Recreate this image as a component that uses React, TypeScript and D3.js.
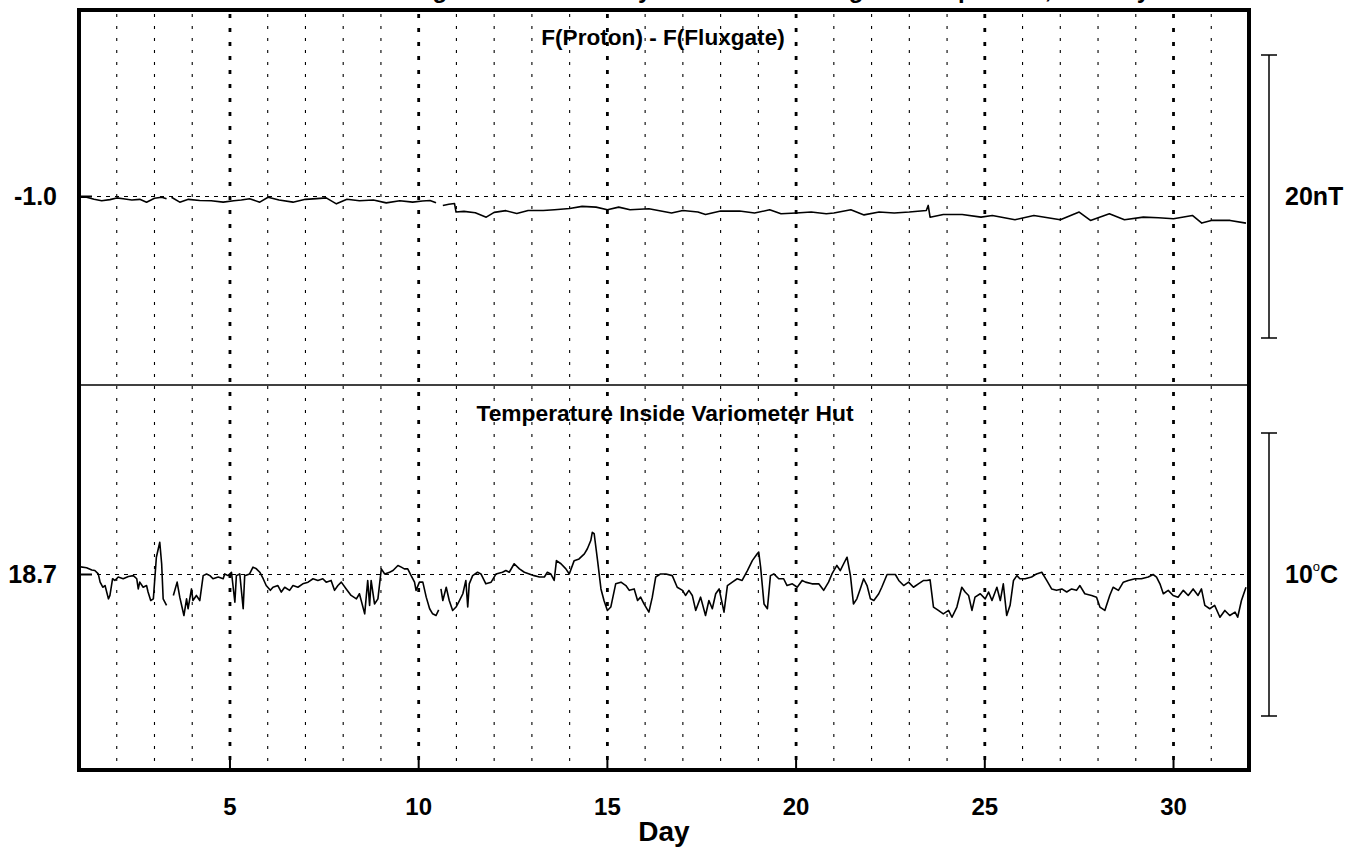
import React from 'react';
import * as d3 from 'd3';

// ---------- data ----------
const dayDomain = [1, 32];
const majorDays = [5, 10, 15, 20, 25, 30];
const minorDays = [2, 3, 4, 6, 7, 8, 9, 11, 12, 13, 14, 16, 17, 18, 19, 21, 22, 23, 24, 26, 27, 28, 29, 31];

const fluxRef = -1.0;
const fluxSpan = 20; // nT scale bar
const tempRef = 18.7;
const tempSpan = 10; // degC scale bar

const titleText = 'Eskdalemuir Magnetic Observatory: Proton and Fluxgate Comparison, January';
const panel1Title = 'F(Proton) - F(Fluxgate)';
const panel2Title = 'Temperature Inside Variometer Hut';

// F(Proton) - F(Fluxgate), nT (null = gap)
const fluxDays = [
  1.0, 1.2, 1.4, 1.6, 1.82, 2.0, 2.17, 2.4, 2.61, 2.79, 3.0, 3.19, 3.32, 3.38,
  3.45, 3.67, 3.9, 4.2, 4.5, 4.82, 5.1, 5.3, 5.52, 5.79, 6.01, 6.3, 6.67, 7.0, 7.3, 7.55, 7.82, 8.1, 8.43, 8.8, 9.14, 9.5, 9.84, 10.1, 10.3, 10.46, 10.55,
  10.64, 10.8, 10.95, 10.99, 11.2, 11.5, 11.79, 12.0, 12.31, 12.6, 12.9, 13.3, 13.6, 14.0, 14.33, 14.7, 15.0, 15.3, 15.6, 16.1, 16.7, 17.0, 17.4, 17.6, 18.0, 18.5, 18.9, 19.3, 19.6, 20.0, 20.4, 20.8, 21.0, 21.45, 21.8, 22.2, 22.6, 23.0, 23.45, 23.5, 23.55, 23.9, 24.4, 24.9, 25.2, 25.8, 26.3, 27.0, 27.5, 27.8, 28.3, 28.7, 29.2, 29.6, 30.0, 30.5, 30.75, 31.0, 31.5, 31.92,
];
const fluxValues = [
  -1.05, -1.05, -1.2, -1.3, -1.22, -1.1, -1.16, -1.25, -1.2, -1.4, -1.12, -1.05, -1.16, null,
  -1.05, -1.4, -1.2, -1.28, -1.3, -1.4, -1.3, -1.25, -1.16, -1.4, -1.05, -1.25, -1.4, -1.2, -1.15, -1.1, -1.52, -1.2, -1.3, -1.25, -1.45, -1.3, -1.4, -1.32, -1.28, -1.45, null,
  -1.63, -1.55, -1.5, -2.1, -2.05, -2.15, -2.46, -2.12, -2.0, -2.2, -1.99, -1.99, -1.94, -1.85, -1.7, -1.75, -1.94, -1.75, -1.94, -1.87, -2.17, -1.99, -2.1, -2.27, -2.03, -2.03, -2.17, -1.94, -2.22, -2.17, -2.1, -2.22, -2.17, -1.94, -2.3, -2.1, -2.17, -2.1, -1.99, -1.63, -2.46, -2.27, -2.27, -2.46, -2.34, -2.64, -2.34, -2.64, -2.1, -2.69, -2.22, -2.64, -2.46, -2.5, -2.57, -2.34, -2.88, -2.69, -2.69, -2.88,
];

// Temperature inside variometer hut, degC (null = gap)
const tempDays = [
  1.0, 1.2, 1.34, 1.42, 1.51, 1.56, 1.63, 1.69, 1.78, 1.82, 1.89, 1.95, 2.04, 2.17, 2.31, 2.44, 2.53, 2.57, 2.61, 2.7, 2.79, 2.83, 2.9, 2.97, 3.05, 3.14, 3.19, 3.23, 3.32, 3.4,
  3.5, 3.6, 3.67, 3.78, 3.85, 3.89, 3.98, 4.02, 4.11, 4.2, 4.29, 4.38, 4.47, 4.55, 4.69, 4.82, 4.86, 4.95, 5.04, 5.13, 5.17, 5.26, 5.35, 5.39, 5.52, 5.61, 5.7, 5.79, 5.88, 5.96,
  6.07, 6.14, 6.27, 6.36, 6.45, 6.58, 6.67, 6.8, 6.93, 7.07, 7.2, 7.33, 7.46, 7.55, 7.68, 7.77, 7.86, 7.95, 8.08, 8.21, 8.35, 8.43, 8.57, 8.65, 8.7, 8.74, 8.83, 8.92,
  9.01, 9.1, 9.23, 9.32, 9.45, 9.54, 9.62, 9.71, 9.8, 9.89, 9.93, 10.02, 10.11, 10.2, 10.29, 10.37, 10.46, 10.53, 10.56,
  10.59, 10.64, 10.73, 10.81, 10.9, 10.99, 11.08, 11.17, 11.25, 11.3, 11.34, 11.43, 11.56, 11.65, 11.78, 11.92, 12.05, 12.22, 12.31, 12.4, 12.53, 12.67, 12.8, 12.93,
  13.06, 13.2, 13.33, 13.41, 13.5, 13.59, 13.65, 13.77, 13.9, 13.99, 14.12, 14.25, 14.39, 14.47, 14.56, 14.6, 14.65, 14.74, 14.83, 14.91, 15.0, 15.09, 15.22, 15.36,
  15.49, 15.58, 15.71, 15.8, 15.88, 15.97, 16.1, 16.19, 16.28, 16.41, 16.55, 16.72, 16.85, 16.99, 17.07, 17.16, 17.25, 17.34, 17.47, 17.6, 17.69, 17.78, 17.87, 17.96,
  18.09, 18.18, 18.31, 18.44, 18.57, 18.71, 18.84, 18.97, 19.01, 19.06, 19.15, 19.24, 19.32, 19.41, 19.54, 19.67, 19.76, 19.9, 20.03, 20.16, 20.25, 20.42, 20.6, 20.73,
  20.86, 20.95, 21.08, 21.17, 21.26, 21.35, 21.44, 21.52, 21.61, 21.7, 21.79, 21.88, 21.97, 22.06, 22.19, 22.27, 22.41, 22.63, 22.72, 22.85, 22.98, 23.11, 23.24, 23.38,
  23.46, 23.55, 23.64, 23.77, 23.9, 24.04, 24.13, 24.26, 24.39, 24.48, 24.57, 24.66, 24.74, 24.88, 25.01, 25.1, 25.19, 25.32, 25.41, 25.49, 25.58, 25.67, 25.76, 25.85,
  25.93, 26.07, 26.24, 26.37, 26.51, 26.64, 26.77, 26.9, 27.04, 27.17, 27.3, 27.43, 27.52, 27.65, 27.83, 27.96, 28.05, 28.18, 28.31, 28.4, 28.54, 28.67, 28.8, 28.98,
  29.15, 29.33, 29.46, 29.55, 29.64, 29.73, 29.86, 29.99, 30.12, 30.26, 30.39, 30.52, 30.65, 30.74, 30.83, 30.96, 31.09, 31.23, 31.36, 31.49, 31.63, 31.7, 31.8, 31.92,
];
const tempValues = [
  18.98, 18.94, 18.86, 18.84, 18.72, 18.43, 18.25, 18.31, 17.84, 17.96, 18.55, 18.49, 18.61, 18.55, 18.63, 18.66, 18.55, 18.19, 18.43, 18.25, 18.31, 18.08, 17.78, 17.84, 19.31, 19.84, 19.08, 17.84, 17.61, null,
  17.96, 18.43, 17.9, 17.25, 17.84, 17.49, 18.19, 17.78, 17.96, 17.78, 18.66, 18.72, 18.66, 18.55, 18.61, 18.55, 18.72, 18.66, 18.78, 17.72, 18.66, 18.72, 17.49, 18.66, 18.72, 18.96, 18.9, 18.78, 18.55, 18.31,
  18.14, 18.25, 18.31, 18.08, 18.25, 18.14, 18.31, 18.25, 18.37, 18.43, 18.55, 18.49, 18.55, 18.43, 18.49, 18.14, 18.31, 18.43, 18.19, 17.96, 17.84, 18.02, 17.31, 18.49, 17.61, 18.49, 17.66, 17.84,
  18.9, 18.72, 18.78, 18.84, 19.02, 18.96, 18.9, 18.9, 18.66, 18.43, 18.14, 18.43, 18.43, 17.9, 17.49, 17.31, 17.25, 17.45, null,
  18.19, 17.78, 18.25, 17.78, 17.43, 17.55, 17.78, 18.02, 18.49, 17.55, 18.37, 18.66, 18.78, 18.72, 18.37, 18.43, 18.72, 18.78, 18.84, 18.78, 19.08, 18.9, 18.78, 18.72,
  18.66, 18.61, 18.61, 18.78, 18.72, 18.49, 19.19, 19.08, 18.9, 18.72, 19.19, 19.25, 19.43, 19.61, 19.9, 20.19, 20.14, 19.19, 18.19, 17.78, 17.43, 17.55, 18.37, 18.43,
  18.31, 18.14, 18.19, 17.78, 17.9, 17.66, 17.37, 17.9, 18.61, 18.72, 18.72, 18.66, 18.25, 18.14, 17.96, 18.14, 17.96, 17.43, 17.9, 17.25, 17.78, 17.49, 18.02, 18.19,
  17.37, 18.31, 18.43, 18.55, 18.49, 18.84, 19.19, 19.43, 19.49, 18.96, 17.66, 17.49, 18.66, 18.72, 18.55, 18.55, 18.31, 18.37, 18.25, 18.49, 18.43, 18.37, 18.37, 18.14,
  18.43, 18.72, 19.02, 18.84, 19.08, 19.31, 18.66, 17.66, 17.84, 18.19, 18.55, 18.31, 17.84, 17.78, 18.02, 18.25, 18.7, 18.7, 18.49, 18.31, 18.43, 18.25, 18.37, 18.49,
  18.49, 18.51, 17.55, 17.43, 17.31, 17.43, 17.19, 17.55, 18.25, 18.08, 17.96, 17.43, 17.9, 18.02, 17.84, 18.08, 17.78, 18.25, 17.78, 18.37, 17.25, 17.61, 18.49, 18.66,
  18.55, 18.55, 18.61, 18.72, 18.78, 18.49, 18.19, 18.14, 18.19, 18.08, 18.19, 18.14, 18.31, 18.02, 17.96, 17.9, 17.55, 17.43, 17.96, 18.25, 18.14, 18.43, 18.49, 18.55,
  18.55, 18.61, 18.7, 18.61, 18.37, 18.02, 18.14, 17.96, 17.9, 18.14, 17.96, 18.19, 17.96, 18.19, 17.61, 17.49, 17.61, 17.19, 17.43, 17.25, 17.37, 17.19, 17.78, 18.25,
];

// ---------- layout ----------
const W = 1356;
const H = 850;
const left = 79;
const right = 1249;
const top = 10;
const bottom = 770;
const mid = 385;

const font = '"Liberation Sans", Arial, Helvetica, sans-serif';

export default function App() {
  const x = d3.scaleLinear().domain(dayDomain).range([left, right]);
  const yFlux = d3
    .scaleLinear()
    .domain([fluxRef - fluxSpan / 2, fluxRef + fluxSpan / 2])
    .range([338, 55]);
  const yTemp = d3
    .scaleLinear()
    .domain([tempRef - tempSpan / 2, tempRef + tempSpan / 2])
    .range([716, 433]);

  const fluxPts = fluxDays.map((d, i) => [d, fluxValues[i]] as [number, number | null]);
  const tempPts = tempDays.map((d, i) => [d, tempValues[i]] as [number, number | null]);

  const fluxLine = d3
    .line<[number, number | null]>()
    .defined((p) => p[1] !== null)
    .x((p) => x(p[0]))
    .y((p) => yFlux(p[1] as number));
  const tempLine = d3
    .line<[number, number | null]>()
    .defined((p) => p[1] !== null)
    .x((p) => x(p[0]))
    .y((p) => yTemp(p[1] as number));

  const barX = 1269;
  const capHalf = 8;

  return (
    <svg
      width={W}
      height={H}
      style={{ position: 'absolute', left: 0, top: 0, background: '#fff' }}
      fontFamily={font}
    >
      <defs>
        <clipPath id="plotClip">
          <rect x={left} y={top} width={right - left} height={bottom - top} />
        </clipPath>
      </defs>
      <rect x={0} y={0} width={W} height={H} fill="#fff" />

      {/* main title (cut off at the top edge, as in the source image) */}
      <text x={700} y={-2} textAnchor="middle" fontSize={24} fontWeight="bold">
        {titleText}
      </text>

      {/* grid */}
      {minorDays.map((d) => (
        <line
          key={'mn' + d}
          x1={x(d)}
          x2={x(d)}
          y1={top + 4}
          y2={bottom - 2}
          stroke="#000"
          strokeWidth={1.1}
          strokeDasharray="3,9"
        />
      ))}
      {majorDays.map((d) => (
        <line
          key={'mj' + d}
          x1={x(d)}
          x2={x(d)}
          y1={top + 4}
          y2={bottom - 2}
          stroke="#000"
          strokeWidth={2.8}
          strokeDasharray="4,10"
        />
      ))}
      {majorDays.map((d) => (
        <line key={'tk' + d} x1={x(d)} x2={x(d)} y1={bottom - 10} y2={bottom} stroke="#000" strokeWidth={2} />
      ))}

      {/* reference lines */}
      <line x1={left} x2={right} y1={yFlux(fluxRef)} y2={yFlux(fluxRef)} stroke="#000" strokeWidth={1.2} strokeDasharray="4,5" />
      <line x1={left} x2={right} y1={yTemp(tempRef)} y2={yTemp(tempRef)} stroke="#000" strokeWidth={1.2} strokeDasharray="4,5" />
      <line x1={left} x2={left + 13} y1={yFlux(fluxRef)} y2={yFlux(fluxRef)} stroke="#000" strokeWidth={2} />
      <line x1={left} x2={left + 13} y1={yTemp(tempRef)} y2={yTemp(tempRef)} stroke="#000" strokeWidth={2} />

      {/* data */}
      <g clipPath="url(#plotClip)">
        <path d={fluxLine(fluxPts) || ''} fill="none" stroke="#000" strokeWidth={1.6} strokeLinejoin="round" />
        <path d={tempLine(tempPts) || ''} fill="none" stroke="#000" strokeWidth={1.6} strokeLinejoin="round" />
      </g>

      {/* panel divider and frame */}
      <line x1={left} x2={right} y1={mid} y2={mid} stroke="#000" strokeWidth={1.5} />
      <rect x={left} y={top} width={right - left} height={bottom - top} fill="none" stroke="#000" strokeWidth={4} />

      {/* panel titles */}
      <text x={663} y={45} textAnchor="middle" fontSize={22.6} fontWeight="bold">
        {panel1Title}
      </text>
      <text x={665} y={421} textAnchor="middle" fontSize={22.8} fontWeight="bold">
        {panel2Title}
      </text>

      {/* left reference labels */}
      <text x={57} y={yFlux(fluxRef)} dy="0.35em" textAnchor="end" fontSize={25} fontWeight="bold">
        {fluxRef.toFixed(1)}
      </text>
      <text x={57} y={yTemp(tempRef)} dy="0.35em" textAnchor="end" fontSize={25} fontWeight="bold">
        {tempRef.toFixed(1)}
      </text>

      {/* scale bars */}
      <g stroke="#000" strokeWidth={1.5}>
        <line x1={barX} x2={barX} y1={yFlux(fluxRef + fluxSpan / 2)} y2={yFlux(fluxRef - fluxSpan / 2)} />
        <line x1={barX - capHalf} x2={barX + capHalf} y1={yFlux(fluxRef + fluxSpan / 2)} y2={yFlux(fluxRef + fluxSpan / 2)} />
        <line x1={barX - capHalf} x2={barX + capHalf} y1={yFlux(fluxRef - fluxSpan / 2)} y2={yFlux(fluxRef - fluxSpan / 2)} />
        <line x1={barX} x2={barX} y1={yTemp(tempRef + tempSpan / 2)} y2={yTemp(tempRef - tempSpan / 2)} />
        <line x1={barX - capHalf} x2={barX + capHalf} y1={yTemp(tempRef + tempSpan / 2)} y2={yTemp(tempRef + tempSpan / 2)} />
        <line x1={barX - capHalf} x2={barX + capHalf} y1={yTemp(tempRef - tempSpan / 2)} y2={yTemp(tempRef - tempSpan / 2)} />
      </g>
      <text x={1285} y={yFlux(fluxRef)} dy="0.35em" fontSize={25} fontWeight="bold">
        {fluxSpan}nT
      </text>
      <text x={1285} y={yTemp(tempRef)} dy="0.35em" fontSize={25} fontWeight="bold">
        {tempSpan}
        <tspan fontSize={13} fontWeight="normal" dy="-12">o</tspan>
        <tspan dy="12">C</tspan>
      </text>

      {/* x tick labels */}
      {majorDays.map((d) => (
        <text key={'lb' + d} x={x(d)} y={815} textAnchor="middle" fontSize={24} fontWeight="bold">
          {d}
        </text>
      ))}
      <text x={664} y={841} textAnchor="middle" fontSize={28} fontWeight="bold">
        Day
      </text>
    </svg>
  );
}
